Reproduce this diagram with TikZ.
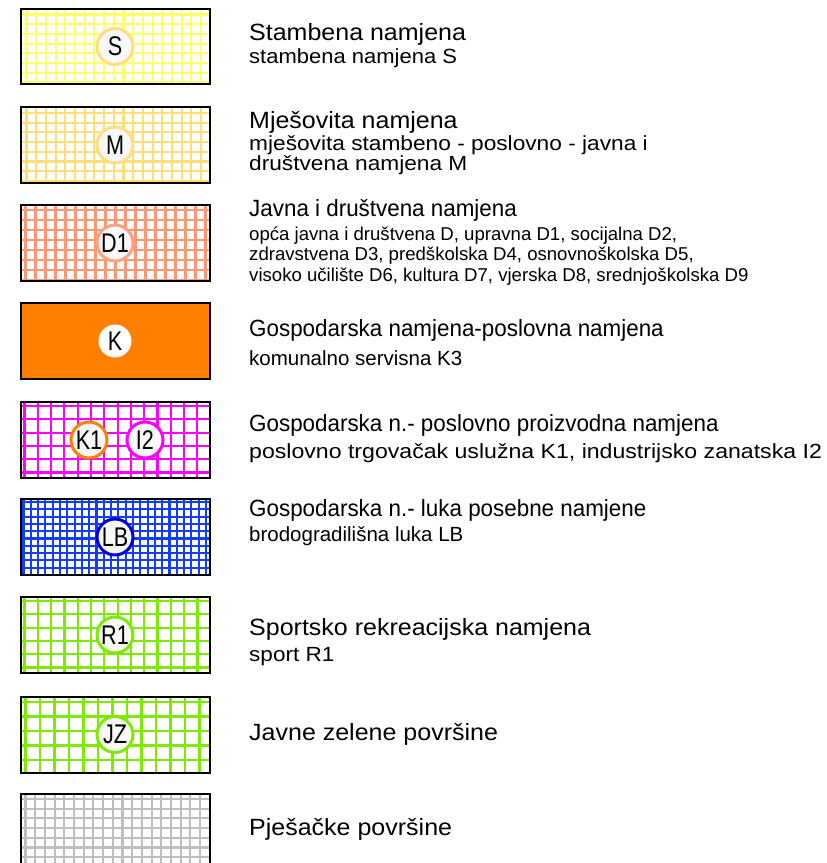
\documentclass[tikz,border=0pt]{standalone}
\usepackage{fontspec}
\setmainfont{Liberation Sans}
\definecolor{ylw}{RGB}{255,255,110}
\definecolor{ylwc}{RGB}{255,222,130}
\definecolor{mgold}{RGB}{255,222,120}
\definecolor{salm}{RGB}{255,150,115}
\definecolor{salmc}{RGB}{255,160,130}
\definecolor{korange}{RGB}{255,128,0}
\definecolor{mag}{RGB}{255,0,255}
\definecolor{lblue}{RGB}{20,60,255}
\definecolor{lbluec}{RGB}{0,0,220}
\definecolor{grn}{RGB}{125,235,0}
\definecolor{gry}{RGB}{190,190,190}
\definecolor{cfill}{RGB}{248,248,248}
\newcommand\lgbox[5]{%
  \begin{scope}
    \clip (20.5,#1) rectangle (210,#1+75.5);
    \foreach \i in {0,...,30}{\draw[#2,line width=#4] (20.5+#5+\i*#3,#1) -- ++(0,75.5);}
    \foreach \i in {0,...,12}{\draw[#2,line width=#4] (20.5,#1+#5+\i*#3) -- ++(189.5,0);}
  \end{scope}
  \draw[line width=2pt] (20.5,#1) rectangle (210,#1+75.5);}
\newcommand\lbl[1]{\scalebox{0.8}[1]{#1}}
\begin{document}
\begin{tikzpicture}[x=1pt,y=-1pt,
  txt/.style={anchor=base west,inner sep=0pt,text=black},
  ttl/.style={txt,font=\fontsize{23.5}{28}\selectfont},
  sub/.style={txt,font=\fontsize{20.5}{24}\selectfont},
  small/.style={txt,font=\fontsize{18.6}{22}\selectfont},
  badge/.style={circle,minimum size=36pt,inner sep=0pt,line width=3pt,fill=cfill,
    font=\fontsize{27}{27}\selectfont}]
\useasboundingbox (0,0) rectangle (827,863);
\fill[white] (0,0) rectangle (827,863);

% swatches
\lgbox{8.5}{ylw}{9.7}{2.1pt}{6}
\lgbox{107}{mgold}{9.7}{2.1pt}{6}
\lgbox{205}{salm}{10}{2.1pt}{5}
\fill[korange] (20.5,303) rectangle (210,378.5);
\draw[line width=2pt] (20.5,303) rectangle (210,378.5);
\lgbox{402}{mag}{13.3}{2.1pt}{4}
\lgbox{499}{lblue}{7.3}{2.1pt}{3}
\lgbox{597}{grn}{13.3}{2.2pt}{4}
\lgbox{697}{grn}{14.5}{2.2pt}{5}
\lgbox{794}{gry}{9.7}{2.1pt}{5}

% badges
\node[badge,draw=ylwc] (cS) at (115,46.5) {\lbl{S}};
\node[badge,draw=ylwc] (cM) at (115,145) {\lbl{M}};
\node[badge,draw=salmc] (cD) at (115,243) {\lbl{D1}};
\node[badge,minimum size=33pt,fill=white] (cK) at (115,341) {\lbl{K}};
\node[badge,draw=korange] (cK1) at (89,440) {\lbl{K1}};
\node[badge,draw=mag] (cI2) at (145,440) {\lbl{I2}};
\node[badge,draw=lbluec] (cLB) at (115,537) {\lbl{LB}};
\node[badge,draw=grn] (cR1) at (115,635) {\lbl{R1}};
\node[badge,draw=grn] (cJZ) at (115,734.5) {\lbl{JZ}};

% texts
\node[ttl] (t1) at (249,40) {\scalebox{1.064}[1]{Stambena namjena}};
\node[sub] (s1) at (249,63) {\scalebox{1.073}[1]{stambena namjena S}};
\node[ttl] (t2) at (249,128) {\scalebox{1.064}[1]{Mješovita namjena}};
\node[sub] (s2a) at (249,150) {\scalebox{1.107}[1]{mješovita stambeno - poslovno - javna i}};
\node[sub] (s2b) at (249,170.5) {\scalebox{1.107}[1]{društvena namjena M}};
\node[ttl] (t3) at (249,216.7) {\scalebox{0.953}[1]{Javna i društvena namjena}};
\node[small] (s3a) at (249,240) {opća javna i društvena D, upravna D1, socijalna D2,};
\node[small] (s3b) at (249,260.7) {zdravstvena D3, predškolska D4, osnovnoškolska D5,};
\node[small] (s3c) at (249,281) {visoko učilište D6, kultura D7, vjerska D8, srednjoškolska D9};
\node[ttl] (t4) at (249,336.7) {\scalebox{0.953}[1]{Gospodarska namjena-poslovna namjena}};
\node[sub] (s4) at (249,365) {komunalno servisna K3};
\node[ttl] (t5) at (249,431.7) {\scalebox{0.953}[1]{Gospodarska n.- poslovno proizvodna namjena}};
\node[sub] (s5) at (249,458.3) {\scalebox{1.127}[1]{poslovno trgovačak uslužna K1, industrijsko zanatska I2}};
\node[ttl] (t6) at (249,516.7) {\scalebox{0.953}[1]{Gospodarska n.- luka posebne namjene}};
\node[sub] (s6) at (249,541.7) {brodogradilišna luka LB};
\node[ttl] (t7) at (249,635.5) {\scalebox{1.064}[1]{Sportsko rekreacijska namjena}};
\node[sub] (s7) at (249,661) {\scalebox{1.1}[1]{sport R1}};
\node[ttl] (t8) at (249,740) {\scalebox{1.064}[1]{Javne zelene površine}};
\node[ttl] (t9) at (249,835) {\scalebox{1.064}[1]{Pješačke površine}};
\end{tikzpicture}
\end{document}
